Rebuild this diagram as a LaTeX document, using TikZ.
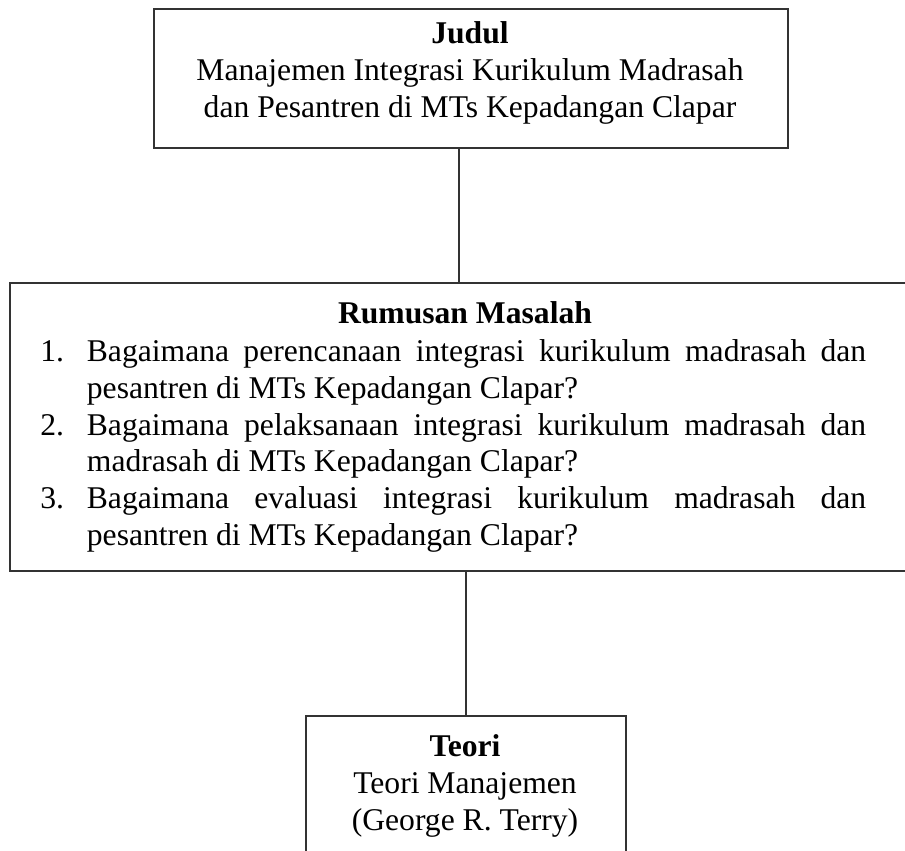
\documentclass[tikz,border=0pt]{standalone}
\usepackage{fontspec}
\setmainfont{Liberation Serif}
\usetikzlibrary{positioning}

\begin{document}
\begin{tikzpicture}[x=0.02cm, y=-0.02cm,
  kotak/.style={draw=black!80, line width=1.1pt, anchor=north west, inner sep=0pt},
  isi/.style={align=center, anchor=north, inner sep=0pt, font=\fontsize{18}{21}\selectfont},
  garis/.style={draw=black!80, line width=1.1pt}]
  \clip (0,0) rectangle (905,850);

  \node[kotak, minimum width=12.68cm, minimum height=2.78cm] (judul) at (153,8) {};
  \node[kotak, minimum width=20cm, minimum height=5.76cm] (rumusan) at (9,282) {};
  \node[kotak, minimum width=6.4cm, minimum height=4cm] (teori) at (305,715) {};
  \coordinate (tengah) at (459,0);

  \node[isi] (judulteks) at (470,21) {\textbf{Judul}\\Manajemen Integrasi Kurikulum Madrasah\\dan Pesantren di MTs Kepadangan Clapar};
  \node[isi] (rumusanjudul) at (465,301) {\textbf{Rumusan Masalah}};
  \node[isi, anchor=north west, align=justify, text width=16.52cm] (rumusanteks) at (40,339) {%
    \parindent=0pt \tolerance=10000 \hbadness=10000 \hyphenpenalty=10000
    \hangindent=26.5pt \hangafter=1 \makebox[26.5pt][l]{1.}Bagaimana perencanaan integrasi kurikulum madrasah dan\linebreak pesantren di MTs Kepadangan Clapar?\par
    \hangindent=26.5pt \hangafter=1 \makebox[26.5pt][l]{2.}Bagaimana pelaksanaan integrasi kurikulum madrasah dan\linebreak madrasah di MTs Kepadangan Clapar?\par
    \hangindent=26.5pt \hangafter=1 \makebox[26.5pt][l]{3.}Bagaimana evaluasi integrasi kurikulum madrasah dan\linebreak pesantren di MTs Kepadangan Clapar?\par};
  \node[isi] (teoriteks) at (465,734) {\textbf{Teori}\\Teori Manajemen\\(George R. Terry)};

  \draw[garis] (tengah |- judul.south) -- (tengah |- rumusan.north);
  \draw[garis] (teori.north |- rumusan.south) -- (teori.north);
\end{tikzpicture}
\end{document}
